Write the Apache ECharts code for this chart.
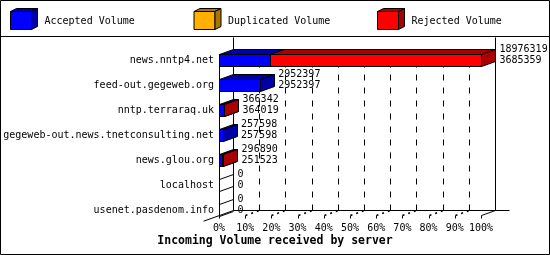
<!DOCTYPE html>
<html><head><meta charset="utf-8">
<script src="https://cdn.jsdelivr.net/npm/echarts@6/dist/echarts.min.js"></script>
<style>html,body{margin:0;padding:0;background:#fff}#c{width:550px;height:255px}</style>
</head><body><div id="c"></div>
<script>
// ---------------- data ----------------
const categories = ['news.nntp4.net', 'feed-out.gegeweb.org', 'nntp.terraraq.uk',
  'gegeweb-out.news.tnetconsulting.net', 'news.glou.org', 'localhost', 'usenet.pasdenom.info'];
const totalVolume      = [18976319, 2952397, 366342, 257598, 296890, 0, 0];
const acceptedVolume   = [3685359, 2952397, 364019, 257598, 251523, 0, 0];
const duplicatedVolume = [0, 0, 0, 0, 0, 0, 0];
const rejectedVolume   = [15290960, 0, 2323, 0, 45367, 0, 0];
const seriesNames = ['Accepted Volume', 'Duplicated Volume', 'Rejected Volume'];
const xTickLabels = ['0%', '10%', '20%', '30%', '40%', '50%', '60%', '70%', '80%', '90%', '100%'];
const chartTitle = 'Incoming Volume received by server';

// ---------------- style ----------------
const FONT = '"DejaVu Sans Mono", "Liberation Mono", monospace';
const FACE = ['#0000ff', '#ffb000', '#ff0000'];
const DARK = ['#0000aa', '#aa7500', '#aa0000'];
const DX = 14, DY = 5, BAR_RATIO = 0.48;

const maxTotal = Math.max.apply(null, totalVolume);
const pct = v => v / maxTotal * 100;
const seriesValues = [acceptedVolume, duplicatedVolume, rejectedVolume];

const snap = v => Math.round(v) + 0.5;

function boxRender(k) {
  return function (params, api) {
    const s = api.value(0), e = api.value(1), c = api.value(2);
    const p0 = api.coord([s, c]), p1 = api.coord([e, c]);
    const h = Math.round(api.size([0, 1])[1] * BAR_RATIO);
    const top = Math.floor(p0[1] - h / 2) + 0.5, bot = top + h;
    const x0 = snap(p0[0]), x1 = Math.max(x0, snap(p1[0]));
    const st = { stroke: '#000', lineWidth: 1 };
    return { type: 'group', children: [
      { type: 'rect', shape: { x: x0, y: top, width: x1 - x0, height: h }, style: Object.assign({ fill: FACE[k] }, st) },
      { type: 'polygon', shape: { points: [[x0, top], [x0 + DX, top - DY], [x1 + DX, top - DY], [x1, top]] }, style: Object.assign({ fill: DARK[k] }, st) },
      { type: 'polygon', shape: { points: [[x1, top], [x1 + DX, top - DY], [x1 + DX, bot - DY], [x1, bot]] }, style: Object.assign({ fill: DARK[k] }, st) }
    ] };
  };
}

function frameRender(params, api) {
  const n = categories.length;
  const h = Math.round(api.size([0, 1])[1] * BAR_RATIO);
  const firstC = api.coord([0, 0])[1], lastC = api.coord([0, n - 1])[1];
  const barTop0 = Math.floor(firstC - h / 2) + 0.5;
  const floorF = Math.floor(lastC - h / 2) + 0.5 + h - 1;
  const floorB = floorF - DY;
  const topY = params.coordSys.y - 10;
  const xa = snap(api.coord([0, 0])[0]), xb = snap(api.coord([100, 0])[0]);
  const ln = (x1, y1, x2, y2, dash, w) => ({ type: 'line', shape: { x1, y1, x2, y2 },
    style: { stroke: '#000', lineWidth: w || 1, lineDash: dash || null } });
  const ch = [];
  for (let k = 1; k < xTickLabels.length - 1; k++) {
    const x = snap(api.coord([k * 10, 0])[0]);
    ch.push(ln(x + DX, floorB, x + DX, barTop0 - DY, [6, 7]));
    ch.push(ln(x, floorF, x + DX, floorB, [2, 4], 1.5));
  }
  for (let k = 0; k < xTickLabels.length; k++) {
    const x = snap(api.coord([k * 10, 0])[0]);
    ch.push(ln(x, floorF, x, floorF + 3));
  }
  ch.push(ln(xa + DX, topY, xa + DX, floorB));
  ch.push(ln(xb + DX, topY, xb + DX, floorB));
  ch.push(ln(xa + DX, floorB, xb + 2 * DX, floorB));
  ch.push(ln(xa, barTop0, xa, floorF));
  ch.push(ln(xa - 16, floorF + 16 * DY / DX, xa + DX, floorB));
  ch.push(ln(xb, floorF, xb + DX, floorB));
  return { type: 'group', children: ch };
}

function labelRender(params, api) {
  const end = api.value(0), c = api.value(1), tot = api.value(2), acc = api.value(3);
  const p = api.coord([end, c]);
  const h = Math.round(api.size([0, 1])[1] * BAR_RATIO);
  const x = p[0] + DX + 4.5;
  const ch = [
    { type: 'text', x: x, y: p[1] - 10.5, style: { text: String(tot), font: '10px ' + FONT, fill: '#000', verticalAlign: 'middle', align: 'left' } },
    { type: 'text', x: x, y: p[1] + 0.5, style: { text: String(acc), font: '10px ' + FONT, fill: '#000', verticalAlign: 'middle', align: 'left' } }
  ];
  if (tot === 0) {
    const x0 = snap(p[0]);
    const top = Math.floor(p[1] - h / 2) + 0.5, bot = top + h;
    ch.push({ type: 'line', shape: { x1: x0, y1: top, x2: x0 + DX, y2: top - DY }, style: { stroke: '#000', lineWidth: 1 } });
    ch.push({ type: 'line', shape: { x1: x0, y1: bot, x2: x0 + DX, y2: bot - DY }, style: { stroke: '#000', lineWidth: 1 } });
  }
  return { type: 'group', children: ch };
}

const series = [{ type: 'custom', name: 'frame', z: 1, renderItem: frameRender, data: [[0, 0]], silent: true }];
seriesValues.forEach((vals, k) => {
  const data = [];
  vals.forEach((v, i) => {
    let start = 0;
    for (let j = 0; j < k; j++) start += seriesValues[j][i];
    if (v > 0) data.push([pct(start), pct(start + v), i]);
  });
  series.push({ type: 'custom', name: seriesNames[k], z: 2, renderItem: boxRender(k), data: data,
    encode: { x: [0, 1], y: 2 } });
});
series.push({ type: 'custom', name: 'labels', z: 3, renderItem: labelRender,
  data: totalVolume.map((t, i) => [pct(t), i, t, acceptedVolume[i]]), encode: { x: 0, y: 1 } });

// legend drawn as 3D boxes
const legendGraphics = seriesNames.map((name, k) => {
  const bx = 10.5 + k * 183.5, by = 11.5, w = 21, hh = 18, ldx = 6, ldy = 3;
  const st = { stroke: '#000', lineWidth: 1 };
  return { type: 'group', children: [
    { type: 'rect', shape: { x: bx, y: by, width: w, height: hh }, style: Object.assign({ fill: FACE[k] }, st) },
    { type: 'polygon', shape: { points: [[bx, by], [bx + ldx, by - ldy], [bx + w + ldx, by - ldy], [bx + w, by]] }, style: Object.assign({ fill: DARK[k] }, st) },
    { type: 'polygon', shape: { points: [[bx + w, by], [bx + w + ldx, by - ldy], [bx + w + ldx, by + hh - ldy], [bx + w, by + hh]] }, style: Object.assign({ fill: DARK[k] }, st) },
    { type: 'text', x: bx + 34, y: 21, style: { text: name, font: '10px ' + FONT, fill: '#000', verticalAlign: 'middle' } }
  ] };
});

const chart = echarts.init(document.getElementById('c'), null, { renderer: 'canvas' });
chart.setOption({
  animation: false,
  backgroundColor: '#fff',
  title: { text: chartTitle, left: 'center', top: 235, padding: 0,
    textStyle: { fontFamily: FONT, fontWeight: 'bold', fontSize: 11.5, color: '#000' } },
  grid: { left: 219, right: 69, top: 47.5, bottom: 32.5, containLabel: false },
  xAxis: { type: 'value', min: 0, max: 100, interval: 10,
    axisLine: { show: false }, axisTick: { show: false }, splitLine: { show: false },
    axisLabel: { formatter: (v, i) => xTickLabels[Math.round(v / 10)], fontFamily: FONT, fontSize: 10, color: '#000', margin: 1 } },
  yAxis: { type: 'category', inverse: true, data: categories,
    axisLine: { show: false }, axisTick: { show: false }, splitLine: { show: false },
    axisLabel: { fontFamily: FONT, fontSize: 10, color: '#000', margin: 5 } },
  graphic: [
    { type: 'rect', shape: { x: 0.5, y: 0.5, width: 549, height: 254 }, style: { fill: null, stroke: '#000', lineWidth: 1 }, z: 10 },
    { type: 'line', shape: { x1: 0, y1: 36.5, x2: 550, y2: 36.5 }, style: { stroke: '#000', lineWidth: 1 }, z: 10 }
  ].concat(legendGraphics),
  series: series
});
</script></body></html>
